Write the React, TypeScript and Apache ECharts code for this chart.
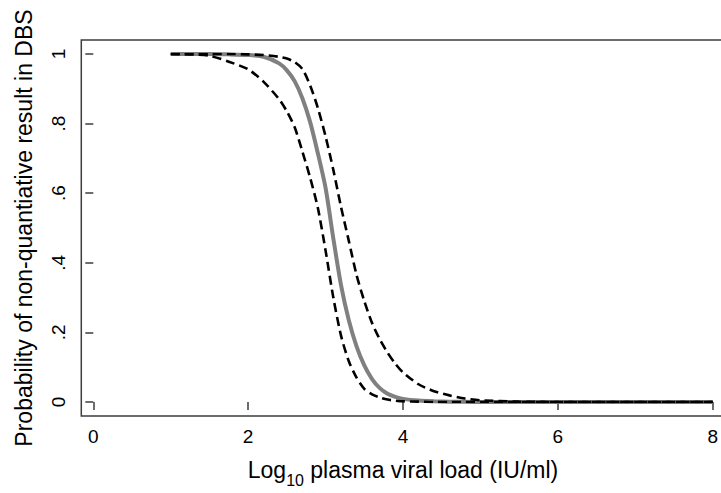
import React, { useEffect, useRef } from "react";
import * as echarts from "echarts";

// x: log10 plasma viral load
const xValues = [1, 1.25, 1.5, 1.75, 2, 2.2, 2.4, 2.5, 2.6, 2.7, 2.8, 2.9, 3.0, 3.1, 3.2, 3.3, 3.4, 3.5, 3.6, 3.7, 3.8, 3.9, 4.0, 4.2, 4.4, 4.6, 4.8, 5.0, 5.5, 6, 7, 8];
// fitted probability (grey solid)
const fitted = [1, 1, 1, 0.999, 0.997, 0.992, 0.973, 0.953, 0.922, 0.873, 0.805, 0.715, 0.615, 0.47, 0.335, 0.235, 0.16, 0.105, 0.066, 0.04, 0.024, 0.015, 0.009, 0.004, 0.002, 0.001, 0.0005, 0, 0, 0, 0, 0];
// upper confidence bound (right dashed)
const upper = [1, 1, 1, 1, 0.999, 0.997, 0.992, 0.987, 0.977, 0.957, 0.91, 0.845, 0.763, 0.667, 0.56, 0.463, 0.365, 0.29, 0.227, 0.18, 0.142, 0.11, 0.085, 0.051, 0.031, 0.019, 0.01, 0.005, 0.001, 0, 0, 0];
// lower confidence bound (left dashed)
const lower = [1, 0.999, 0.995, 0.978, 0.956, 0.92, 0.87, 0.835, 0.79, 0.72, 0.645, 0.558, 0.435, 0.3, 0.19, 0.117, 0.07, 0.038, 0.022, 0.013, 0.007, 0.004, 0.002, 0.001, 0, 0, 0, 0, 0, 0, 0, 0];

const xTicks = [0, 2, 4, 6, 8];
const yTickLabels = ["0", ".2", ".4", ".6", ".8", "1"];

const FONT = "'Liberation Sans', Arial, Helvetica, sans-serif";
const AXIS_COLOR = "#3c3c3c";

export default function App() {
  const ref = useRef<HTMLDivElement>(null);
  useEffect(() => {
    if (!ref.current) return;
    const chart = echarts.init(ref.current, undefined, { renderer: "svg" });
    const pairs = (ys: number[]) => xValues.map((x, i) => [x, ys[i]]);
    chart.setOption({
      animation: false,
      backgroundColor: "#ffffff",
      textStyle: { fontFamily: FONT },
      grid: { left: 93.3, top: 54, width: 623.4, height: 350, containLabel: false },
      graphic: [
        {
          type: "rect",
          shape: { x: 81.3, y: 40, width: 700, height: 376 },
          style: { fill: "none", stroke: AXIS_COLOR, lineWidth: 1.5 },
          silent: true,
          z: 10,
        },
      ],
      xAxis: {
        type: "value",
        min: xTicks[0],
        max: xTicks[xTicks.length - 1],
        interval: 2,
        offset: 12,
        axisLine: { show: false },
        axisTick: { show: true, length: 8, lineStyle: { color: AXIS_COLOR, width: 1.5 } },
        splitLine: { show: false },
        axisLabel: { color: "#000", fontSize: 19, fontFamily: FONT, margin: 13, showMinLabel: true, showMaxLabel: true },
        name: "{a|Log}{s|10}{a| plasma viral load (IU/ml)}",
        nameLocation: "middle",
        nameGap: 44,
        nameTextStyle: {
          rich: {
            a: { fontSize: 23, lineHeight: 26, color: "#000", fontFamily: FONT, verticalAlign: "top" },
            s: { fontSize: 16, lineHeight: 16, padding: [14, 0, 0, 0], color: "#000", fontFamily: FONT, verticalAlign: "top" },
          },
        },
      },
      yAxis: {
        type: "value",
        min: 0,
        max: 1,
        interval: 0.2,
        offset: 12,
        axisLine: { show: false },
        axisTick: { show: true, length: 8, lineStyle: { color: AXIS_COLOR, width: 1.5 } },
        splitLine: { show: false },
        axisLabel: {
          color: "#000",
          fontSize: 19,
          fontFamily: FONT,
          rotate: 90,
          margin: 13,
          formatter: (v: number) => yTickLabels[Math.round(v / 0.2)],
        },
        name: "Probability of non-quantiative result in DBS",
        nameLocation: "middle",
        nameGap: 46,
        nameTextStyle: { fontSize: 23, color: "#000", fontFamily: FONT },
      },
      series: [
        {
          type: "line",
          data: pairs(fitted),
          showSymbol: false,
          smooth: 0.25,
          lineStyle: { color: "#808080", width: 4 },
          z: 2,
        },
        {
          type: "line",
          data: pairs(lower),
          showSymbol: false,
          smooth: 0.25,
          lineStyle: { color: "#000", width: 2.6, type: [9, 5] },
          z: 3,
        },
        {
          type: "line",
          data: pairs(upper),
          showSymbol: false,
          smooth: 0.25,
          lineStyle: { color: "#000", width: 2.6, type: [9, 5] },
          z: 3,
        },
      ],
    });
    return () => chart.dispose();
  }, []);
  return (
    <div
      ref={ref}
      style={{ position: "absolute", left: 0, top: 0, width: 721, height: 493, background: "#fff" }}
    />
  );
}
